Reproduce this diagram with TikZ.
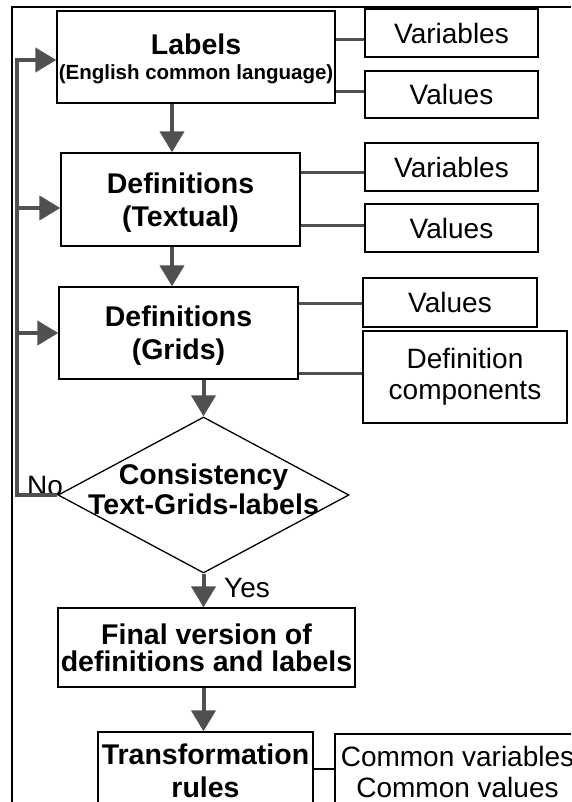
\documentclass[tikz,border=0pt]{standalone}
\usepackage{fontspec}
\setmainfont{Liberation Sans}
\usetikzlibrary{arrows.meta,shapes.geometric}
\definecolor{ag}{RGB}{80,80,80}
\begin{document}
\begin{tikzpicture}[x=1pt,y=-1pt,
  mainbox/.style={draw=black, line width=1.3pt, inner sep=0pt, align=center, text depth=0pt, font=\bfseries\fontsize{28.5}{33}\selectfont},
  sidebox/.style={draw=black, line width=1.3pt, inner sep=0pt, align=center, font=\fontsize{28}{31}\selectfont},
  conn/.style={draw=ag, line width=3pt},
  flow/.style={draw=ag, line width=4pt, -{Triangle[width=24pt,length=21pt]}},
  plain/.style={inner sep=0pt, font=\fontsize{28}{31}\selectfont}
]
\clip (0,0) rectangle (571,802);
\fill[white] (0,0) rectangle (571,802);
% outer frame
\draw[black, line width=2pt] (571,7) -- (12,7) -- (12,810);

% main boxes
\node[mainbox, minimum width=278pt, minimum height=92pt] (labels) at (196,57)
  {Labels\\[-8pt]{\fontsize{20.5}{24}\selectfont (English common language)}};
\node[mainbox, minimum width=239pt, minimum height=93pt] (deft) at (180.5,199.5)
  {Definitions\\(Textual)};
\node[mainbox, minimum width=239pt, minimum height=92pt] (defg) at (178.5,333)
  {Definitions\\(Grids)};
\node[draw=black, diamond, line width=1.3pt, minimum width=291pt, minimum height=156pt, inner sep=0pt] (dec) at (203.5,495) {};
\node[inner sep=0pt, align=center, text depth=0pt, font=\bfseries\fontsize{28.5}{30}\selectfont] (dectext) at (203.5,489)
  {Consistency\\Text-Grids-labels};
\node[mainbox, font=\bfseries\fontsize{28.5}{27}\selectfont, minimum width=297pt, minimum height=79pt] (final) at (206.5,647.5)
  {Final version of\\definitions and labels};
\node[mainbox, minimum width=215pt, minimum height=78pt] (trans) at (205.5,771)
  {Transformation\\rules};

% side boxes
\node[sidebox, minimum width=173pt, minimum height=48pt] (var1) at (451.5,33) {Variables};
\node[sidebox, minimum width=173pt, minimum height=47pt] (val1) at (451.5,94.5) {Values};
\node[sidebox, minimum width=173pt, minimum height=48pt] (var2) at (451.5,167) {Variables};
\node[sidebox, minimum width=173pt, minimum height=48pt] (val2) at (451.5,228) {Values};
\node[sidebox, minimum width=174pt, minimum height=49pt] (val3) at (450,302.5) {Values};
\node[sidebox, minimum width=204pt, minimum height=92pt] (defc) at (465,377) {Definition\\components};
\node[sidebox, minimum width=245pt, minimum height=76pt] (cv) at (457.5,772) {Common variables\\Common values};

% labels
\node[plain] (no) at (45,486) {No};
\node[plain] (yes) at (247,588) {Yes};

% helper coordinates
\coordinate (xa) at (172,0);
\coordinate (fbx) at (17,0);

% side connectors
\draw[conn] (labels.east |- 0,40) -- (var1.west |- 0,40);
\draw[conn] (labels.east |- 0,92) -- (val1.west |- 0,92);
\draw[conn] (deft.east |- 0,173) -- (var2.west |- 0,173);
\draw[conn] (deft.east |- 0,226) -- (val2.west |- 0,226);
\draw[conn] (defg.east |- 0,303) -- (val3.west |- 0,303);
\draw[conn] (defg.east |- 0,373) -- (defc.west |- 0,373);
\draw[draw=black, line width=2.7pt] (trans.east |- 0,769) -- (cv.west |- 0,769);

% flow arrows
\draw[flow] (labels.south -| xa) -- (deft.north -| xa);
\draw[flow] (deft.south -| xa) -- (defg.north -| xa);
\draw[flow] (defg.south -| dec.north) -- (dec.north);
\draw[flow] (dec.south) -- (final.north -| dec.south);
\draw[flow] (final.south -| dec.south) -- (trans.north -| dec.south);

% feedback loop
\draw[flow] (dec.west) -- (fbx |- dec.west) -- (fbx |- 0,60) -- (labels.west |- 0,60);
\draw[flow] (fbx |- 0,208) -- (deft.west |- 0,208);
\draw[flow] (fbx |- defg.west) -- (defg.west);
\end{tikzpicture}
\end{document}
